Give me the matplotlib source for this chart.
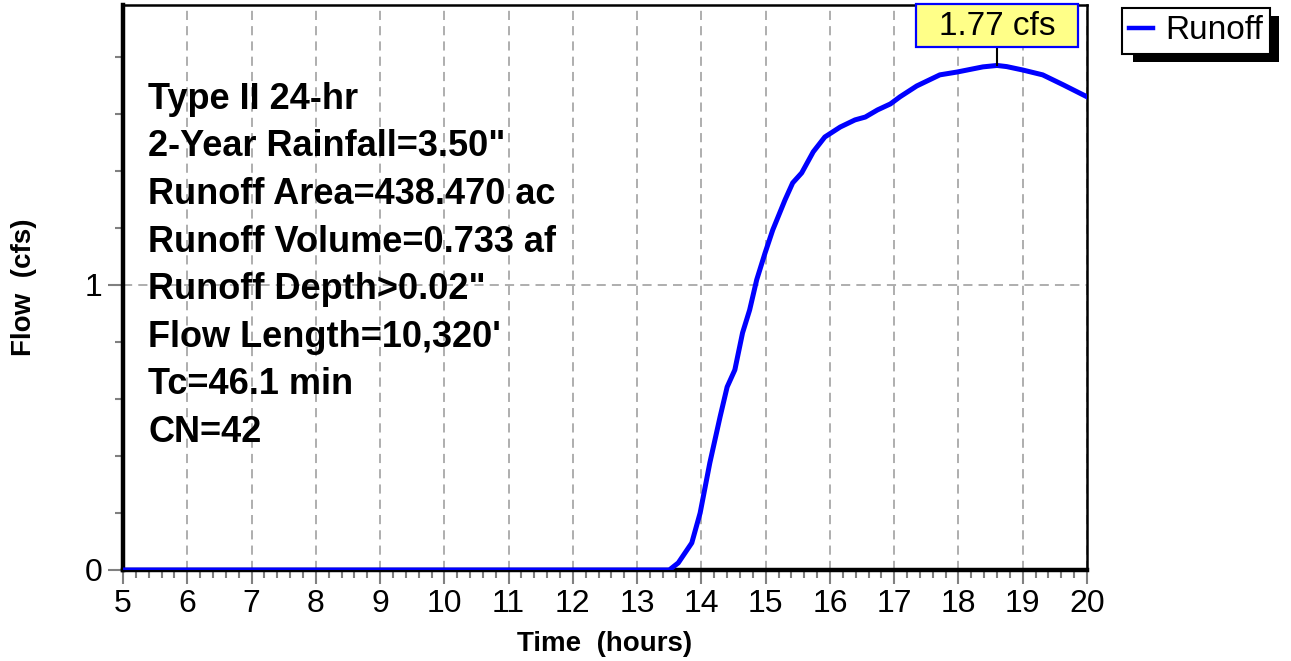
import matplotlib
matplotlib.use("Agg")
import matplotlib.pyplot as plt
import matplotlib.transforms as mtransforms
from matplotlib.patches import Rectangle
from matplotlib.ticker import MultipleLocator

plt.rcParams['font.family'] = ['Liberation Sans', 'DejaVu Sans']

# runoff hydrograph
time_hr = [5.0, 13.5, 13.64, 13.85, 13.98, 14.13, 14.29, 14.40, 14.52, 14.64,
           14.75, 14.86, 14.99, 15.11, 15.30, 15.42, 15.56, 15.74, 15.92, 16.16,
           16.39, 16.55, 16.74, 16.94, 17.09, 17.35, 17.71, 17.98, 18.38, 18.60,
           18.75, 19.00, 19.31, 19.63, 20.0]
flow_cfs = [0.0, 0.0, 0.025, 0.095, 0.20, 0.375, 0.537, 0.642, 0.702, 0.832,
            0.912, 1.018, 1.112, 1.193, 1.298, 1.358, 1.393, 1.467, 1.519, 1.554,
            1.579, 1.589, 1.614, 1.635, 1.660, 1.698, 1.737, 1.747, 1.765, 1.770,
            1.766, 1.754, 1.737, 1.702, 1.660]

info_lines = ['Type II 24-hr',
              '2-Year Rainfall=3.50"',
              'Runoff Area=438.470 ac',
              'Runoff Volume=0.733 af',
              'Runoff Depth>0.02"',
              "Flow Length=10,320'",
              'Tc=46.1 min',
              'CN=42']

fig = plt.figure(figsize=(12.91, 6.61), dpi=100)
ax = fig.add_axes([0.0953, 0.1377, 0.7467, 0.8547])

ax.plot(time_hr, flow_cfs, color='#0000FF', lw=3.6, label='Runoff',
        solid_joinstyle='round', zorder=3)

ax.set_xlim(5, 20)
ax.set_ylim(0, 1.982)
ax.xaxis.set_major_locator(MultipleLocator(1))
ax.xaxis.set_minor_locator(MultipleLocator(0.2))
ax.yaxis.set_major_locator(MultipleLocator(1))
ax.yaxis.set_minor_locator(MultipleLocator(0.2))

ax.tick_params(which='major', direction='out', color='#808080', width=1.5,
               labelsize=23, pad=4)
ax.tick_params(axis='x', which='major', length=10, pad=4)
ax.tick_params(axis='y', which='major', length=11)
ax.tick_params(which='minor', direction='out', color='#808080', width=1.5, length=6)

ax.grid(which='major', ls=(0, (6, 4)), color='#999999', lw=1.1)

for side in ['left', 'bottom']:
    ax.spines[side].set_linewidth(3.2)
for side in ['top', 'right']:
    ax.spines[side].set_linewidth(1.8)

ax.set_xlabel('Time  (hours)', fontsize=20, fontweight='bold')
ax.set_ylabel('Flow  (cfs)', fontsize=20, fontweight='bold')
ax.xaxis.set_label_coords(0.5, -0.108)
ax.yaxis.set_label_coords(-0.089, 0.5)

# info text block
for i, line in enumerate(info_lines):
    ax.text(0.026, 0.816 - i * 0.0841, line, transform=ax.transAxes,
            fontsize=26, fontweight='bold', va='baseline', ha='left')

# peak callout
i_peak = flow_cfs.index(max(flow_cfs))
t_peak, q_peak = time_hr[i_peak], flow_cfs[i_peak]
trans = fig.dpi_scale_trans + mtransforms.ScaledTranslation(t_peak, q_peak, ax.transData)
ax.plot([0, 0], [0, 0.18], transform=trans, color='black', lw=1.5,
        clip_on=False, zorder=5)
ax.add_patch(Rectangle((-0.81, 0.18), 1.62, 0.43, transform=trans,
                       facecolor='#FFFF88', edgecolor='#0000FF', lw=1.6,
                       clip_on=False, zorder=6))
ax.text(0, 0.39, f'{q_peak:.2f} cfs', transform=trans, fontsize=24,
        ha='center', va='center', zorder=7)

leg = ax.legend(loc='upper left', bbox_to_anchor=(1.036, 0.9947),
                borderaxespad=0, fontsize=24, handlelength=0.72,
                handletextpad=0.36, borderpad=0.22, fancybox=False,
                framealpha=1, edgecolor='black')
leg.get_frame().set_linewidth(1.5)
for h in leg.get_lines():
    h.set_linewidth(3.2)

# drop shadow behind legend
fig.canvas.draw()
bb = leg.get_frame().get_window_extent()
inv = fig.transFigure.inverted()
(x0, y0) = inv.transform((bb.x0 + 11, bb.y0 - 8))
(x1, y1) = inv.transform((bb.x1 + 9, bb.y1 - 8))
fig.patches.append(Rectangle((x0, y0), x1 - x0, y1 - y0, transform=fig.transFigure,
                             facecolor='black', edgecolor='none', zorder=-1))

fig.savefig('out.png', dpi=100)
